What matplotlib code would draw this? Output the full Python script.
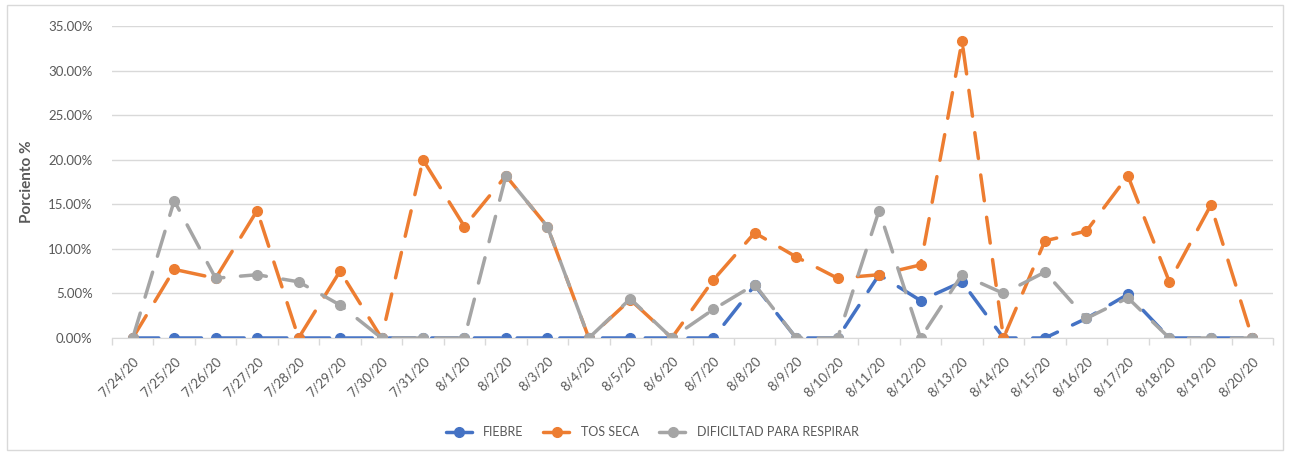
import numpy as np
import matplotlib.pyplot as plt
from matplotlib.patches import Rectangle

fechas = [
    "7/24/20", "7/25/20", "7/26/20", "7/27/20", "7/28/20", "7/29/20", "7/30/20",
    "7/31/20", "8/1/20", "8/2/20", "8/3/20", "8/4/20", "8/5/20", "8/6/20",
    "8/7/20", "8/8/20", "8/9/20", "8/10/20", "8/11/20", "8/12/20", "8/13/20",
    "8/14/20", "8/15/20", "8/16/20", "8/17/20", "8/18/20", "8/19/20", "8/20/20",
]

fiebre = [0, 0, 0, 0, 0, 0, 0, 0, 0, 0, 0, 0, 0, 0,
          0, 5.9, 0, 0, 7.1, 4.2, 6.3, 0, 0, 2.2, 4.9, 0, 0, 0]

tos_seca = [0, 7.7, 6.7, 14.3, 0, 7.5, 0, 20.0, 12.5, 18.2, 12.5, 0, 4.3, 0,
            6.5, 11.8, 9.1, 6.7, 7.1, 8.2, 33.3, 0, 10.9, 12.0, 18.2, 6.3, 14.9, 0]

dificultad = [0, 15.4, 6.7, 7.1, 6.3, 3.7, 0, 0, 0, 18.2, 12.5, 0, 4.4, 0,
              3.2, 6.0, 0, 0, 14.3, 0, 7.1, 5.0, 7.4, 2.2, 4.5, 0, 0, 0]

series = [
    ("FIEBRE", fiebre, "#4472C4"),
    ("TOS SECA", tos_seca, "#ED7D31"),
    ("DIFICILTAD PARA RESPIRAR", dificultad, "#A5A5A5"),
]

plt.rcParams["font.family"] = ["Lato", "DejaVu Sans"]

fig = plt.figure(figsize=(12.9, 4.55), dpi=100)
ax = fig.add_axes([112 / 1290, 1 - 338 / 455, (1273 - 112) / 1290, (338 - 26) / 455])

x = np.arange(len(fechas))
for nombre, valores, color in series:
    ax.plot(x, valores, color=color, linewidth=2.5, linestyle=(0, (7.5, 4.8)),
            dash_capstyle="round", marker="o", markersize=7, label=nombre)

ax.set_xlim(-0.5, len(fechas) - 0.5)
ax.set_ylim(0, 35)
ax.set_yticks(np.arange(0, 36, 5))
ax.set_yticklabels([f"{v:.2f}%" for v in np.arange(0, 36, 5)])
ax.yaxis.grid(True, color="#D9D9D9", linewidth=1)
ax.set_axisbelow(True)

ax.set_xticks(x)
ax.set_xticklabels(fechas, rotation=45, ha="right", rotation_mode="anchor")
ax.set_xticks(np.arange(-0.5, len(fechas), 1), minor=True)
ax.tick_params(axis="x", which="major", length=0, pad=12, labelsize=9.5, labelcolor="#595959")
ax.tick_params(axis="x", which="minor", length=5, color="#D9D9D9", width=1)
ax.tick_params(axis="y", length=0, pad=14, labelsize=9.5, labelcolor="#595959")

for side in ["top", "right", "left"]:
    ax.spines[side].set_visible(False)
ax.spines["bottom"].set_color("#D9D9D9")

ax.set_ylabel("Porciento %", fontsize=11, fontweight="bold", color="#595959", labelpad=10)

ax.legend(loc="center", bbox_to_anchor=(652 / 1290, 1 - 432 / 455),
          bbox_transform=fig.transFigure, ncol=3, frameon=False, fontsize=9,
          labelcolor="#595959", handlelength=2.2, handletextpad=0.8, columnspacing=1.6)

fig.patches.append(Rectangle((7 / 1290, 5 / 455), 1276 / 1290, 445 / 455,
                             transform=fig.transFigure, fill=False,
                             edgecolor="#D9D9D9", linewidth=1))

fig.savefig("out.png", dpi=100)
